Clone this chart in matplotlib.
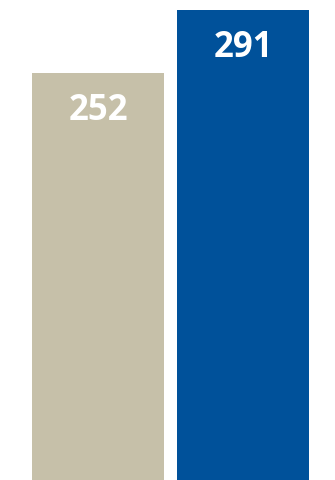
import matplotlib
matplotlib.use("Agg")
import matplotlib.pyplot as plt

categories = ["A", "B"]
values = [252, 291]
colors = ["#C6C0A9", "#00519A"]

fig = plt.figure(figsize=(3.35, 4.81), dpi=100)
ax = fig.add_axes([0, 0, 1, 1])

x = list(range(len(categories)))
bars = ax.bar(x, values, width=0.91, color=colors)

for bar, v in zip(bars, values):
    ax.annotate(f"{v}", (bar.get_x() + bar.get_width() / 2, v),
                xytext=(0, -27), textcoords="offset points",
                ha="center", va="center", color="white",
                fontsize=25, fontweight="bold", family="Open Sans")

ax.set_xlim(-0.676, 1.634)
ax.set_ylim(0, 297.8)
ax.axis("off")

fig.savefig("out.png", dpi=100)
